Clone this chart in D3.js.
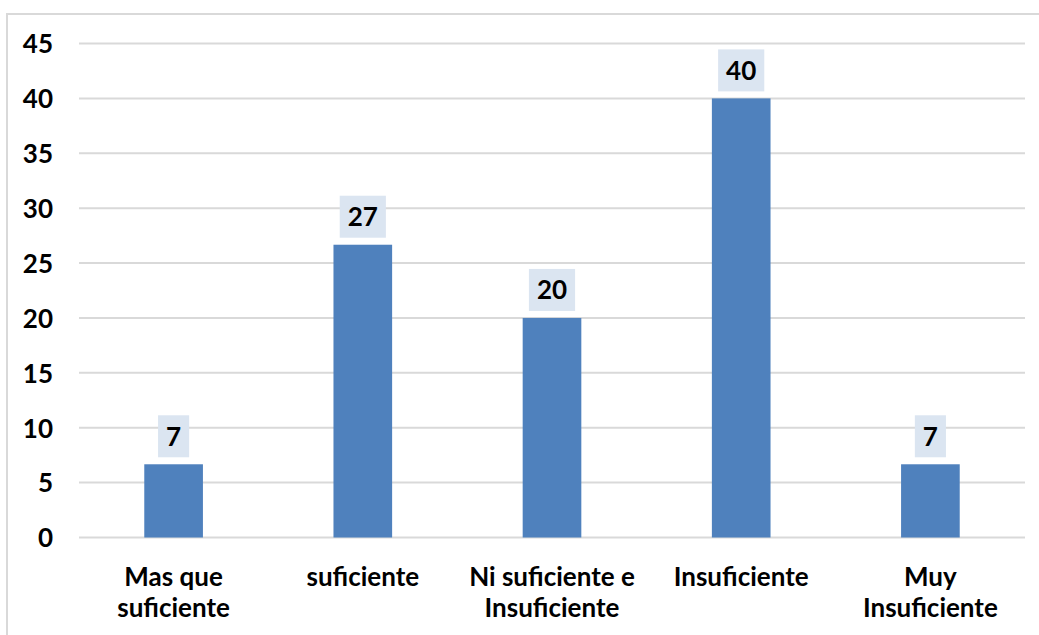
<!DOCTYPE html>
<html><head><meta charset="utf-8">
<script src="https://cdn.jsdelivr.net/npm/d3@7"></script>
<style>body{margin:0;background:#fff;}svg{display:block;font-family:Lato,"Open Sans",sans-serif;font-weight:bold;}</style>
</head><body>
<svg id="c" width="1039" height="635"></svg>
<script>
const categories = [["Mas que","suficiente"],["suficiente"],["Ni suficiente e","Insuficiente"],["Insuficiente"],["Muy","Insuficiente"]];
const values = [6.67, 26.67, 20, 40, 6.67];
const valueLabels = ["7","27","20","40","7"];
const yTicks = [0,5,10,15,20,25,30,35,40,45];
const FS = 26;

const svg = d3.select("#c");
svg.append("line").attr("x1",7).attr("x2",1039).attr("y1",14).attr("y2",14).attr("stroke","#d9d9d9").attr("stroke-width",2);
svg.append("line").attr("x1",7).attr("x2",7).attr("y1",13).attr("y2",635).attr("stroke","#d9d9d9").attr("stroke-width",2);

const x = d3.scaleBand().domain(d3.range(values.length)).range([79,1025]).paddingInner(0.69).paddingOuter(0.345);
const y = d3.scaleLinear().domain([0,45]).range([537.5,43.5]);

const g = svg.append("g");
g.selectAll("line.grid").data(yTicks).enter().append("line")
 .attr("x1",79).attr("x2",1025).attr("y1",d=>y(d)).attr("y2",d=>y(d))
 .attr("stroke","#d9d9d9").attr("stroke-width",2);

const yAxis = d3.axisLeft(y).tickValues(yTicks).tickSize(0).tickPadding(0);
const ya = svg.append("g").attr("transform","translate(53,0)").call(yAxis);
ya.select(".domain").remove();
ya.selectAll("text").attr("font-size",FS).attr("font-family","Lato").attr("font-weight","bold").attr("fill","#000").attr("dy","0.36em");

g.selectAll("rect.bar").data(values).enter().append("rect")
 .attr("x",(d,i)=>x(i)).attr("width",x.bandwidth())
 .attr("y",d=>y(d)).attr("height",d=>y(0)-y(d)).attr("fill","#4f81bd");

values.forEach((v,i)=>{
  const cx = x(i)+x.bandwidth()/2;
  const lg = svg.append("g");
  const r = lg.append("rect").attr("fill","#dbe5f1");
  const t = lg.append("text").attr("x",cx).attr("y",y(v)-28).attr("text-anchor","middle")
    .attr("dy","0.36em").attr("font-size",FS).attr("fill","#000").text(valueLabels[i]);
  const w = t.node().getComputedTextLength();
  r.attr("x",cx-w/2-8).attr("width",w+16).attr("y",y(v)-49).attr("height",42);
});

categories.forEach((lines,i)=>{
  const cx = x(i)+x.bandwidth()/2;
  lines.forEach((s,j)=>{
    svg.append("text").attr("x",cx).attr("y",586+j*31).attr("text-anchor","middle")
      .attr("font-size",FS).attr("fill","#000").text(s);
  });
});
</script>
</body></html>
